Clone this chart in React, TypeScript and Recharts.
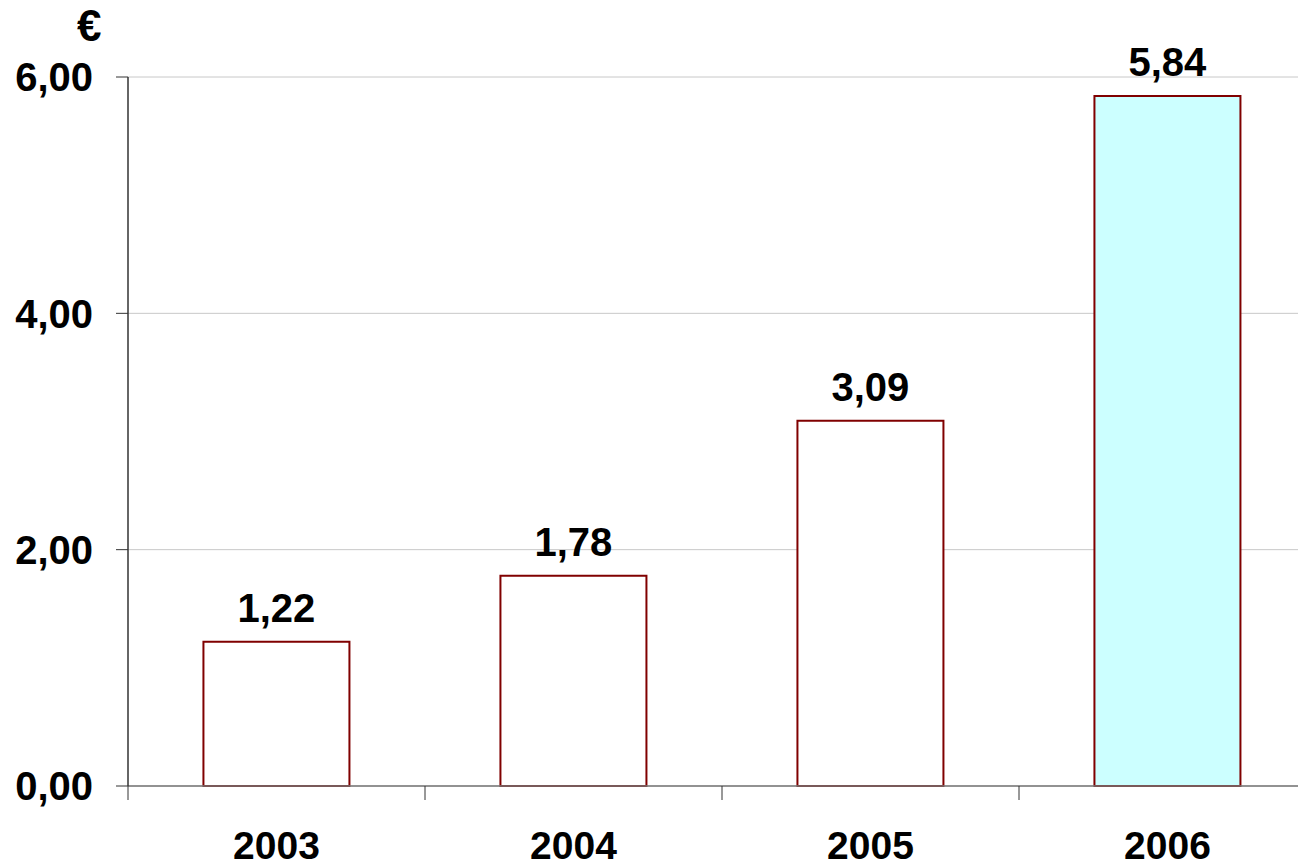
import React from 'react';
import { BarChart, Bar, XAxis, YAxis, CartesianGrid, LabelList, Cell } from 'recharts';

const years = ['2003', '2004', '2005', '2006'];
const values = [1.22, 1.78, 3.09, 5.84];
const fills = ['#FFFFFF', '#FFFFFF', '#FFFFFF', '#CCFFFF'];
const yTicks = [0, 2, 4, 6];

const data = years.map((year, i) => ({ year, value: values[i] }));

const FONT = '"Liberation Sans", Arial, sans-serif';
const fmt = (v: number) => v.toFixed(2).replace('.', ',');

const X_TICK_SIZE = 14;
const X_TICK_MARGIN = 31;

// label at the category centre, tick mark at the category's left edge
const YearTick = (props: any) => {
  const { x, y, payload } = props;
  const edge = x - (payload.offset || 0);
  return (
    <g>
      <line
        x1={edge}
        x2={edge}
        y1={y - X_TICK_MARGIN - X_TICK_SIZE}
        y2={y - X_TICK_MARGIN}
        stroke="#333"
        strokeWidth={1}
      />
      <text
        x={x}
        y={y}
        dy="0.71em"
        textAnchor="middle"
        fontFamily={FONT}
        fontWeight="bold"
        fontSize={39}
        fill="#000"
      >
        {payload.value}
      </text>
    </g>
  );
};

export default function App() {
  return (
    <div
      style={{
        position: 'absolute',
        left: 0,
        top: 0,
        width: 1298,
        height: 867,
        overflow: 'hidden',
        background: '#fff',
      }}
    >
      <div
        style={{
          position: 'absolute',
          left: 77,
          top: 1,
          fontFamily: FONT,
          fontWeight: 'bold',
          fontSize: 44,
          lineHeight: 1.15,
          color: '#000',
        }}
      >
        €
      </div>
      <BarChart
        width={1316}
        height={867}
        data={data}
        margin={{ top: 77, right: 0, left: 0, bottom: 0 }}
        barCategoryGap="25.4%"
      >
        <CartesianGrid vertical={false} stroke="#C8C8C8" strokeWidth={1} />
        <XAxis
          dataKey="year"
          height={81}
          axisLine={{ stroke: '#777', strokeWidth: 1.5 }}
          tickLine={false}
          tickSize={X_TICK_SIZE}
          tickMargin={X_TICK_MARGIN}
          tick={<YearTick />}
          interval={0}
        />
        <YAxis
          width={128}
          domain={[0, 6]}
          ticks={yTicks}
          tickFormatter={fmt}
          axisLine={{ stroke: '#333', strokeWidth: 1.5 }}
          tickLine={{ stroke: '#333' }}
          tickSize={12}
          tickMargin={23}
          tick={{ fontFamily: FONT, fontWeight: 'bold', fontSize: 40, fill: '#000' }}
        />
        <Bar dataKey="value" stroke="#800000" strokeWidth={2} isAnimationActive={false}>
          {data.map((d, i) => (
            <Cell key={d.year} fill={fills[i]} />
          ))}
          <LabelList
            dataKey="value"
            position="top"
            offset={20}
            formatter={(v: any) => fmt(Number(v))}
            style={{ fontFamily: FONT, fontWeight: 'bold', fontSize: 40, fill: '#000' }}
          />
        </Bar>
      </BarChart>
    </div>
  );
}
